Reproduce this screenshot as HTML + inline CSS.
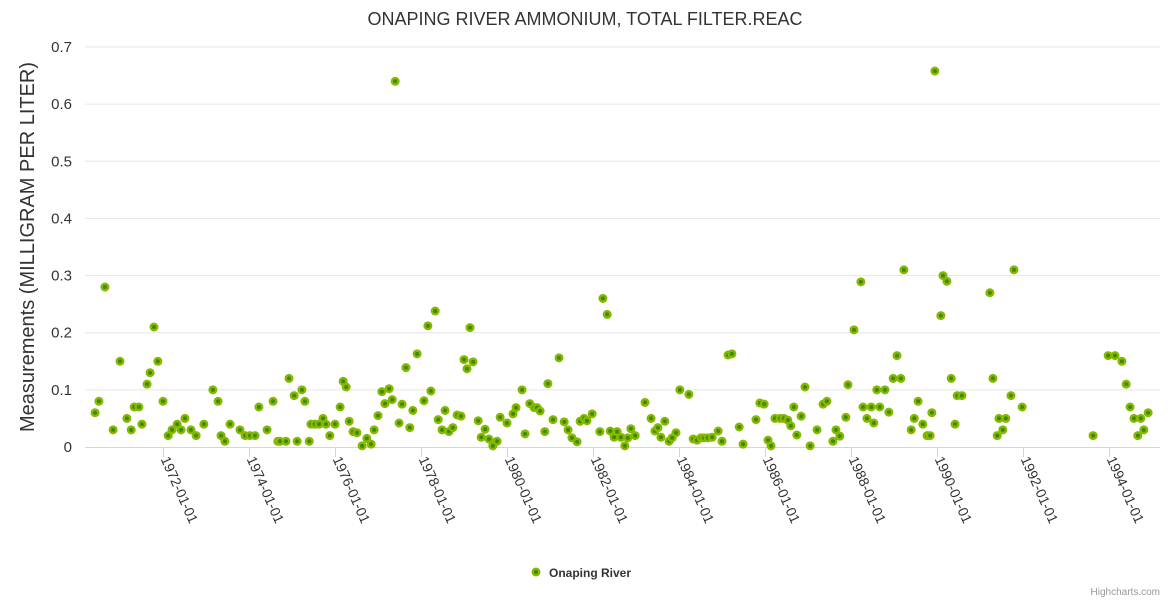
<!DOCTYPE html>
<html><head><meta charset="utf-8">
<style>
body{margin:0;background:#fff;font-family:"Liberation Sans",sans-serif;}
svg{display:block}
</style></head>
<body>
<svg id="chart" width="1170" height="600" xmlns="http://www.w3.org/2000/svg">
<text x="585" y="25" text-anchor="middle" font-size="18" fill="#333" font-family="Liberation Sans, sans-serif">ONAPING RIVER AMMONIUM, TOTAL FILTER.REAC</text>
<text transform="translate(34,247) rotate(-90)" text-anchor="middle" font-size="20" fill="#333" font-family="Liberation Sans, sans-serif">Measurements (MILLIGRAM PER LITER)</text>
<g id="grid"></g>
<g id="xaxis"></g>
<g id="points"></g>
<g>
<circle cx="536" cy="572" r="4.5" fill="#86b800"/><circle cx="536" cy="572" r="2" fill="#3d8a00"/>
<text x="549" y="577" font-size="12" font-weight="bold" fill="#333" font-family="Liberation Sans, sans-serif">Onaping River</text>
</g>
<text x="1160" y="595" text-anchor="end" font-size="10" fill="#999" font-family="Liberation Sans, sans-serif">Highcharts.com</text>
</svg>
<script>
const yTicks=[0,0.1,0.2,0.3,0.4,0.5,0.6,0.7];
const xTickYears=[1972,1974,1976,1978,1980,1982,1984,1986,1988,1990,1992,1994];
// years since 1970-01-01
const xs=[0.42,0.51,0.65,0.84,1.00,1.16,1.26,1.33,1.44,1.51,1.63,1.70,1.79,1.88,2.00,2.12,2.21,2.33,2.42,2.51,2.65,2.77,2.95,3.16,3.28,3.35,3.44,3.56,3.79,3.91,4.02,4.14,4.23,4.42,4.56,4.67,4.72,4.86,4.93,5.05,5.12,5.23,5.30,5.40,5.44,5.53,5.63,5.72,5.79,5.88,6.00,6.12,6.19,6.26,6.33,6.42,6.51,6.63,6.74,6.84,6.91,7.00,7.09,7.16,7.26,7.33,7.40,7.49,7.56,7.65,7.74,7.81,7.91,8.07,8.16,8.23,8.33,8.40,8.49,8.56,8.65,8.74,8.84,8.93,9.00,9.07,9.14,9.21,9.33,9.40,9.49,9.58,9.67,9.77,9.84,10.00,10.14,10.21,10.35,10.42,10.53,10.63,10.70,10.77,10.88,10.95,11.07,11.21,11.33,11.42,11.51,11.63,11.70,11.79,11.86,11.98,12.16,12.23,12.33,12.40,12.49,12.56,12.65,12.74,12.81,12.88,12.98,13.21,13.35,13.44,13.51,13.58,13.67,13.77,13.84,13.93,14.02,14.23,14.33,14.42,14.51,14.58,14.67,14.77,14.91,15.00,15.14,15.23,15.40,15.49,15.79,15.88,15.98,16.07,16.14,16.23,16.35,16.44,16.53,16.60,16.67,16.74,16.84,16.93,17.05,17.21,17.35,17.44,17.58,17.65,17.74,17.88,17.93,18.07,18.23,18.28,18.37,18.47,18.53,18.60,18.67,18.79,18.88,18.98,19.07,19.16,19.23,19.40,19.47,19.56,19.67,19.77,19.84,19.88,19.95,20.09,20.14,20.23,20.33,20.42,20.47,20.58,21.23,21.30,21.40,21.44,21.53,21.60,21.72,21.79,21.98,23.63,23.98,24.14,24.30,24.40,24.49,24.58,24.67,24.74,24.81,24.91];
const ys=[0.06,0.08,0.28,0.03,0.15,0.05,0.03,0.07,0.07,0.04,0.11,0.13,0.21,0.15,0.08,0.02,0.03,0.04,0.03,0.05,0.03,0.02,0.04,0.10,0.08,0.02,0.01,0.04,0.03,0.02,0.02,0.02,0.07,0.03,0.08,0.01,0.01,0.01,0.12,0.09,0.01,0.10,0.08,0.01,0.04,0.04,0.04,0.05,0.04,0.02,0.04,0.07,0.115,0.105,0.045,0.027,0.025,0.002,0.015,0.005,0.03,0.055,0.097,0.076,0.102,0.083,0.64,0.042,0.075,0.139,0.034,0.064,0.163,0.081,0.212,0.098,0.238,0.048,0.03,0.064,0.027,0.034,0.056,0.054,0.153,0.137,0.209,0.149,0.046,0.017,0.031,0.014,0.002,0.01,0.052,0.042,0.058,0.069,0.1,0.023,0.076,0.069,0.069,0.063,0.027,0.111,0.048,0.156,0.044,0.03,0.016,0.009,0.045,0.05,0.046,0.058,0.027,0.26,0.232,0.028,0.017,0.027,0.017,0.002,0.016,0.032,0.02,0.078,0.05,0.028,0.034,0.017,0.045,0.01,0.016,0.025,0.1,0.092,0.014,0.012,0.016,0.016,0.016,0.017,0.028,0.01,0.161,0.163,0.035,0.005,0.048,0.077,0.075,0.012,0.002,0.05,0.05,0.05,0.047,0.037,0.07,0.021,0.054,0.105,0.002,0.03,0.075,0.08,0.01,0.03,0.019,0.052,0.109,0.205,0.289,0.07,0.05,0.07,0.042,0.1,0.07,0.1,0.061,0.12,0.16,0.12,0.31,0.03,0.05,0.08,0.04,0.02,0.02,0.06,0.658,0.23,0.30,0.29,0.12,0.04,0.09,0.09,0.27,0.12,0.02,0.05,0.03,0.05,0.09,0.31,0.07,0.02,0.16,0.16,0.15,0.11,0.07,0.05,0.02,0.05,0.03,0.06];

const NS="http://www.w3.org/2000/svg";
const L=85,R=1160,T=47,B=447;
function xScale(yrs){return 77+yrs*43;}
function yScale(v){return B-v/0.7*(B-T);}
function mk(tag,attrs,parent){const e=document.createElementNS(NS,tag);for(const k in attrs)e.setAttribute(k,attrs[k]);parent.appendChild(e);return e;}
const grid=document.getElementById('grid');
yTicks.forEach(v=>{
  const y=yScale(v);
  if(v>0){const l=mk('line',{x1:L,x2:R,y1:y,y2:y,stroke:'#e6e6e6','stroke-width':1},grid);
  
  }
  const t=mk('text',{x:72,y:y+5,'text-anchor':'end','font-size':15,fill:'#333','font-family':'Liberation Sans, sans-serif'},grid);
  t.textContent=v===0?'0':String(v);
  
  
});
const xa=document.getElementById('xaxis');
const ax=mk('line',{x1:L,x2:R,y1:B+0.5,y2:B+0.5,stroke:'#ccd6eb','stroke-width':1},xa);


xTickYears.forEach(yr=>{
  const x=Math.round(xScale(yr-1970))+0.5;
  const tk=mk('line',{x1:x,x2:x,y1:B,y2:B+10,stroke:'#ccd6eb','stroke-width':1},xa);
  
  
  const t=mk('text',{transform:`translate(${x-3},${B+12}) rotate(66)`,'font-size':14,fill:'#333','font-family':'Liberation Sans, sans-serif'},xa);
  t.textContent=yr+'-01-01';
  
  
});
const pg=document.getElementById('points');
xs.forEach((x,i)=>{
  const cx=xScale(x),cy=yScale(ys[i]);
  const c=mk('circle',{cx:cx,cy:cy,r:4.5,fill:'#86b800'},pg);
  
  
  const d=mk('circle',{cx:cx,cy:cy,r:2,fill:'#3d8a00'},pg);
  
  
});
</script>
</body></html>
